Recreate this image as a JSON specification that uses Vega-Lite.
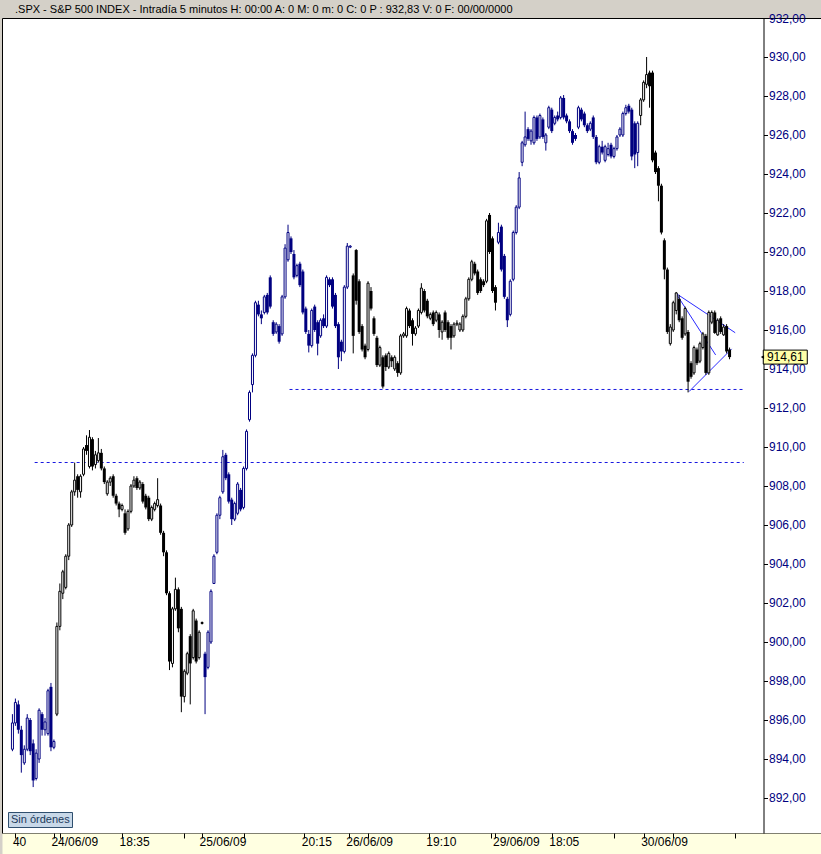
{
"$schema": "https://vega.github.io/schema/vega-lite/v6.json",
"width": 819, "height": 815,
"autosize": {"type": "none"},
"padding": {"left": 2, "top": 18, "right": 0, "bottom": 21},
"background": "#d4d0c8",
"title": {"text": ".SPX - S&P 500 INDEX - Intradía 5 minutos  H: 00:00  A: 0  M: 0  m: 0  C: 0  P : 932,83  V: 0  F: 00/00/0000", "anchor": "start", "frame": "group", "dx": 13, "dy": 7, "offset": 4, "font": "Liberation Sans", "fontSize": 11, "fontWeight": "normal", "color": "black"},
"config": {"view": {"fill": "white", "stroke": "black", "strokeWidth": 1}, "font": "Liberation Sans"},
"resolve": {"axis": {"x": "independent"}},
"datasets": {
"bars": [
{"i":0,"d":"23/06","o":894.5,"h":896.3,"l":894.4,"c":895.85},
{"i":1,"d":"23/06","o":895.85,"h":897.1,"l":895.7,"c":896.9},
{"i":2,"d":"23/06","o":896.8,"h":897.0,"l":895.3,"c":895.5},
{"i":3,"d":"23/06","o":895.5,"h":895.7,"l":893.3,"c":894.2},
{"i":4,"d":"23/06","o":893.8,"h":894.7,"l":893.7,"c":894.5},
{"i":5,"d":"23/06","o":894.5,"h":896.3,"l":894.4,"c":896.1},
{"i":6,"d":"23/06","o":896.0,"h":896.1,"l":894.2,"c":894.4},
{"i":7,"d":"23/06","o":894.8,"h":895.0,"l":892.56,"c":892.9},
{"i":8,"d":"23/06","o":893.0,"h":894.5,"l":892.9,"c":894.3},
{"i":9,"d":"23/06","o":894.0,"h":896.6,"l":893.8,"c":896.5},
{"i":10,"d":"23/06","o":896.3,"h":896.4,"l":895.2,"c":895.5},
{"i":11,"d":"23/06","o":895.5,"h":896.1,"l":895.2,"c":895.9},
{"i":12,"d":"23/06","o":895.3,"h":897.6,"l":895.2,"c":897.5},
{"i":13,"d":"23/06","o":897.7,"h":897.9,"l":894.4,"c":894.6},
{"i":14,"d":"23/06","o":894.6,"h":895.0,"l":894.5,"c":894.9},
{"i":15,"d":"24/06","o":896.3,"h":901.0,"l":896.2,"c":900.8},
{"i":16,"d":"24/06","o":900.8,"h":903.0,"l":900.6,"c":902.6},
{"i":17,"d":"24/06","o":902.5,"h":903.7,"l":902.2,"c":903.6},
{"i":18,"d":"24/06","o":902.8,"h":904.5,"l":902.7,"c":904.4},
{"i":19,"d":"24/06","o":904.4,"h":906.1,"l":904.2,"c":906.0},
{"i":20,"d":"24/06","o":906.0,"h":907.8,"l":905.9,"c":907.7},
{"i":21,"d":"24/06","o":907.7,"h":909.2,"l":907.5,"c":908.3},
{"i":22,"d":"24/06","o":908.5,"h":908.6,"l":907.4,"c":907.8},
{"i":23,"d":"24/06","o":907.7,"h":908.6,"l":907.4,"c":908.5},
{"i":24,"d":"24/06","o":908.6,"h":910.0,"l":908.5,"c":909.9},
{"i":25,"d":"24/06","o":910.1,"h":910.6,"l":909.6,"c":909.8},
{"i":26,"d":"24/06","o":909.0,"h":910.87,"l":908.9,"c":910.5},
{"i":27,"d":"24/06","o":910.4,"h":910.5,"l":908.8,"c":909.0},
{"i":28,"d":"24/06","o":909.1,"h":909.8,"l":908.9,"c":909.6},
{"i":29,"d":"24/06","o":909.3,"h":910.46,"l":909.2,"c":909.7},
{"i":30,"d":"24/06","o":909.7,"h":909.9,"l":908.8,"c":908.9},
{"i":31,"d":"24/06","o":908.9,"h":909.0,"l":908.1,"c":908.2},
{"i":32,"d":"24/06","o":907.6,"h":908.3,"l":907.5,"c":908.2},
{"i":33,"d":"24/06","o":908.2,"h":908.5,"l":908.0,"c":908.4},
{"i":34,"d":"24/06","o":908.5,"h":908.6,"l":907.4,"c":907.5},
{"i":35,"d":"24/06","o":907.5,"h":907.6,"l":907.0,"c":907.1},
{"i":36,"d":"24/06","o":907.1,"h":907.2,"l":906.4,"c":906.8},
{"i":37,"d":"24/06","o":906.8,"h":907.1,"l":906.7,"c":907.0},
{"i":38,"d":"24/06","o":906.6,"h":906.8,"l":905.5,"c":905.6},
{"i":39,"d":"24/06","o":905.8,"h":906.8,"l":905.7,"c":906.7},
{"i":40,"d":"24/06","o":906.7,"h":908.1,"l":906.6,"c":908.0},
{"i":41,"d":"24/06","o":908.0,"h":908.5,"l":907.9,"c":908.3},
{"i":42,"d":"24/06","o":908.4,"h":908.5,"l":907.8,"c":907.9},
{"i":43,"d":"24/06","o":907.9,"h":908.3,"l":907.8,"c":908.2},
{"i":44,"d":"24/06","o":908.1,"h":908.2,"l":907.1,"c":907.2},
{"i":45,"d":"24/06","o":907.5,"h":907.6,"l":906.8,"c":906.9},
{"i":46,"d":"24/06","o":907.4,"h":907.5,"l":906.2,"c":906.3},
{"i":47,"d":"24/06","o":906.3,"h":907.0,"l":906.2,"c":906.9},
{"i":48,"d":"24/06","o":906.8,"h":907.2,"l":906.7,"c":907.1},
{"i":49,"d":"24/06","o":907.0,"h":908.4,"l":906.9,"c":907.3},
{"i":50,"d":"24/06","o":907.0,"h":907.1,"l":905.5,"c":905.6},
{"i":51,"d":"24/06","o":905.6,"h":905.7,"l":904.4,"c":904.6},
{"i":52,"d":"24/06","o":904.6,"h":904.7,"l":902.4,"c":902.5},
{"i":53,"d":"24/06","o":902.5,"h":902.6,"l":898.56,"c":899.0},
{"i":54,"d":"24/06","o":898.9,"h":901.8,"l":898.7,"c":901.7},
{"i":55,"d":"24/06","o":901.7,"h":903.3,"l":901.6,"c":902.7},
{"i":56,"d":"24/06","o":902.7,"h":902.8,"l":900.5,"c":900.7},
{"i":57,"d":"24/06","o":901.7,"h":901.8,"l":896.4,"c":897.2},
{"i":58,"d":"24/06","o":897.2,"h":898.6,"l":896.9,"c":898.5},
{"i":59,"d":"24/06","o":898.4,"h":899.5,"l":898.3,"c":899.4},
{"i":60,"d":"24/06","o":900.3,"h":900.4,"l":896.8,"c":898.9},
{"i":61,"d":"24/06","o":899.2,"h":901.7,"l":899.1,"c":901.6},
{"i":62,"d":"24/06","o":901.1,"h":901.2,"l":898.9,"c":899.0},
{"i":63,"d":"24/06","o":899.2,"h":900.6,"l":899.1,"c":900.5},
{"i":64,"d":"24/06","o":900.95,"h":901.05,"l":900.9,"c":901.0},
{"i":65,"d":"25/06","o":899.4,"h":899.5,"l":896.3,"c":898.2},
{"i":66,"d":"25/06","o":898.7,"h":900.6,"l":898.6,"c":900.5},
{"i":67,"d":"25/06","o":900.0,"h":902.7,"l":899.9,"c":902.6},
{"i":68,"d":"25/06","o":903.0,"h":904.5,"l":903.0,"c":904.4},
{"i":69,"d":"25/06","o":904.6,"h":906.6,"l":904.5,"c":906.5},
{"i":70,"d":"25/06","o":906.5,"h":907.5,"l":906.3,"c":907.4},
{"i":71,"d":"25/06","o":907.7,"h":909.85,"l":907.6,"c":909.5},
{"i":72,"d":"25/06","o":909.6,"h":909.7,"l":908.3,"c":908.4},
{"i":73,"d":"25/06","o":908.6,"h":908.7,"l":907.1,"c":907.2},
{"i":74,"d":"25/06","o":907.3,"h":907.4,"l":906.0,"c":906.3},
{"i":75,"d":"25/06","o":906.3,"h":907.2,"l":906.2,"c":907.1},
{"i":76,"d":"25/06","o":906.6,"h":908.2,"l":906.5,"c":908.1},
{"i":77,"d":"25/06","o":907.8,"h":907.9,"l":906.7,"c":906.8},
{"i":78,"d":"25/06","o":906.9,"h":909.0,"l":906.8,"c":908.9},
{"i":79,"d":"25/06","o":908.9,"h":910.9,"l":908.8,"c":910.8},
{"i":80,"d":"25/06","o":911.4,"h":912.9,"l":911.3,"c":912.8},
{"i":81,"d":"25/06","o":913.2,"h":914.8,"l":912.8,"c":914.7},
{"i":82,"d":"25/06","o":914.7,"h":917.5,"l":914.6,"c":917.4},
{"i":83,"d":"25/06","o":917.3,"h":917.5,"l":916.7,"c":916.8},
{"i":84,"d":"25/06","o":916.8,"h":917.0,"l":916.3,"c":916.6},
{"i":85,"d":"25/06","o":916.9,"h":917.8,"l":916.8,"c":917.7},
{"i":86,"d":"25/06","o":917.8,"h":917.9,"l":916.8,"c":916.9},
{"i":87,"d":"25/06","o":918.7,"h":918.8,"l":917.1,"c":917.2},
{"i":88,"d":"25/06","o":916.4,"h":916.5,"l":915.7,"c":915.8},
{"i":89,"d":"25/06","o":915.9,"h":916.4,"l":915.8,"c":916.3},
{"i":90,"d":"25/06","o":916.2,"h":916.3,"l":915.3,"c":915.4},
{"i":91,"d":"25/06","o":915.8,"h":917.8,"l":915.7,"c":917.7},
{"i":92,"d":"25/06","o":917.7,"h":920.4,"l":917.6,"c":920.2},
{"i":93,"d":"25/06","o":919.6,"h":921.4,"l":919.5,"c":921.0},
{"i":94,"d":"25/06","o":920.7,"h":920.8,"l":919.9,"c":920.0},
{"i":95,"d":"25/06","o":919.9,"h":920.1,"l":918.6,"c":918.7},
{"i":96,"d":"25/06","o":918.8,"h":919.4,"l":918.7,"c":919.3},
{"i":97,"d":"25/06","o":919.4,"h":919.5,"l":918.2,"c":918.3},
{"i":98,"d":"25/06","o":919.0,"h":919.1,"l":916.8,"c":916.9},
{"i":99,"d":"25/06","o":917.1,"h":917.2,"l":915.8,"c":915.9},
{"i":100,"d":"25/06","o":915.8,"h":916.0,"l":914.85,"c":915.2},
{"i":101,"d":"25/06","o":915.2,"h":917.1,"l":915.1,"c":917.0},
{"i":102,"d":"25/06","o":917.2,"h":917.3,"l":915.9,"c":916.0},
{"i":103,"d":"25/06","o":916.4,"h":916.5,"l":914.7,"c":915.3},
{"i":104,"d":"25/06","o":915.7,"h":916.6,"l":915.6,"c":916.5},
{"i":105,"d":"25/06","o":916.6,"h":916.8,"l":916.1,"c":916.2},
{"i":106,"d":"25/06","o":916.2,"h":918.8,"l":916.1,"c":918.7},
{"i":107,"d":"25/06","o":918.6,"h":918.7,"l":918.2,"c":918.3},
{"i":108,"d":"25/06","o":918.6,"h":918.7,"l":917.1,"c":917.2},
{"i":109,"d":"25/06","o":917.8,"h":917.9,"l":916.1,"c":916.2},
{"i":110,"d":"25/06","o":916.3,"h":916.4,"l":914.0,"c":914.6},
{"i":111,"d":"25/06","o":915.4,"h":915.5,"l":914.4,"c":914.9},
{"i":112,"d":"25/06","o":914.9,"h":918.3,"l":914.8,"c":918.2},
{"i":113,"d":"25/06","o":918.2,"h":920.46,"l":918.1,"c":920.3},
{"i":114,"d":"25/06","o":920.25,"h":920.35,"l":920.2,"c":920.3},
{"i":115,"d":"26/06","o":918.8,"h":918.9,"l":914.8,"c":915.7},
{"i":116,"d":"26/06","o":920.1,"h":920.15,"l":917.3,"c":917.5},
{"i":117,"d":"26/06","o":918.5,"h":918.6,"l":915.8,"c":915.9},
{"i":118,"d":"26/06","o":916.2,"h":916.3,"l":914.9,"c":915.0},
{"i":119,"d":"26/06","o":915.2,"h":915.3,"l":914.5,"c":914.6},
{"i":120,"d":"26/06","o":915.0,"h":918.5,"l":914.9,"c":918.4},
{"i":121,"d":"26/06","o":918.0,"h":918.2,"l":917.0,"c":917.1},
{"i":122,"d":"26/06","o":916.6,"h":916.7,"l":915.7,"c":915.8},
{"i":123,"d":"26/06","o":915.6,"h":915.7,"l":914.1,"c":914.2},
{"i":124,"d":"26/06","o":914.2,"h":915.2,"l":914.1,"c":915.1},
{"i":125,"d":"26/06","o":914.6,"h":914.7,"l":913.0,"c":913.1},
{"i":126,"d":"26/06","o":914.7,"h":914.8,"l":913.9,"c":914.1},
{"i":127,"d":"26/06","o":914.1,"h":914.9,"l":914.0,"c":914.8},
{"i":128,"d":"26/06","o":914.6,"h":914.7,"l":914.1,"c":914.4},
{"i":129,"d":"26/06","o":914.0,"h":914.7,"l":913.9,"c":914.6},
{"i":130,"d":"26/06","o":914.3,"h":914.4,"l":913.6,"c":913.8},
{"i":131,"d":"26/06","o":913.8,"h":915.8,"l":913.7,"c":915.7},
{"i":132,"d":"26/06","o":915.7,"h":915.9,"l":915.6,"c":915.8},
{"i":133,"d":"26/06","o":915.7,"h":917.2,"l":915.6,"c":917.1},
{"i":134,"d":"26/06","o":917.0,"h":917.1,"l":916.1,"c":916.2},
{"i":135,"d":"26/06","o":916.5,"h":916.6,"l":915.2,"c":915.8},
{"i":136,"d":"26/06","o":915.8,"h":916.2,"l":915.7,"c":916.1},
{"i":137,"d":"26/06","o":916.2,"h":917.1,"l":916.1,"c":917.0},
{"i":138,"d":"26/06","o":916.9,"h":918.4,"l":916.8,"c":918.15},
{"i":139,"d":"26/06","o":918.0,"h":918.1,"l":916.9,"c":917.0},
{"i":140,"d":"26/06","o":917.5,"h":917.6,"l":916.6,"c":916.7},
{"i":141,"d":"26/06","o":916.6,"h":916.9,"l":916.5,"c":916.8},
{"i":142,"d":"26/06","o":916.9,"h":917.0,"l":916.2,"c":916.3},
{"i":143,"d":"26/06","o":916.5,"h":917.0,"l":916.4,"c":916.9},
{"i":144,"d":"26/06","o":916.8,"h":916.9,"l":915.6,"c":916.0},
{"i":145,"d":"26/06","o":915.9,"h":916.5,"l":915.5,"c":916.4},
{"i":146,"d":"26/06","o":916.9,"h":917.0,"l":915.9,"c":916.0},
{"i":147,"d":"26/06","o":916.4,"h":916.5,"l":915.5,"c":915.6},
{"i":148,"d":"26/06","o":916.2,"h":916.3,"l":915.0,"c":915.6},
{"i":149,"d":"26/06","o":915.7,"h":916.4,"l":915.6,"c":916.3},
{"i":150,"d":"26/06","o":916.3,"h":916.5,"l":916.2,"c":916.35},
{"i":151,"d":"26/06","o":916.0,"h":916.4,"l":915.9,"c":916.3},
{"i":152,"d":"26/06","o":916.0,"h":916.8,"l":915.9,"c":916.7},
{"i":153,"d":"26/06","o":916.7,"h":917.7,"l":916.6,"c":917.6},
{"i":154,"d":"26/06","o":917.6,"h":918.7,"l":917.5,"c":918.6},
{"i":155,"d":"26/06","o":918.6,"h":919.6,"l":918.5,"c":919.5},
{"i":156,"d":"26/06","o":919.4,"h":919.5,"l":918.8,"c":918.9},
{"i":157,"d":"26/06","o":919.0,"h":919.1,"l":917.8,"c":917.9},
{"i":158,"d":"26/06","o":918.6,"h":918.7,"l":917.9,"c":918.0},
{"i":159,"d":"26/06","o":918.5,"h":918.6,"l":918.2,"c":918.3},
{"i":160,"d":"26/06","o":918.5,"h":921.7,"l":918.4,"c":921.6},
{"i":161,"d":"26/06","o":921.9,"h":922.0,"l":919.9,"c":920.0},
{"i":162,"d":"26/06","o":920.7,"h":920.8,"l":917.9,"c":918.0},
{"i":163,"d":"26/06","o":918.2,"h":918.3,"l":917.0,"c":917.4},
{"i":164,"d":"29/06","o":920.5,"h":921.5,"l":920.4,"c":921.0},
{"i":165,"d":"29/06","o":921.3,"h":921.4,"l":919.0,"c":919.1},
{"i":166,"d":"29/06","o":919.8,"h":919.9,"l":917.6,"c":917.7},
{"i":167,"d":"29/06","o":917.6,"h":917.7,"l":916.15,"c":916.5},
{"i":168,"d":"29/06","o":916.8,"h":918.6,"l":916.7,"c":918.5},
{"i":169,"d":"29/06","o":918.6,"h":921.1,"l":918.5,"c":921.0},
{"i":170,"d":"29/06","o":921.0,"h":922.4,"l":920.9,"c":922.3},
{"i":171,"d":"29/06","o":922.3,"h":924.1,"l":922.2,"c":923.8},
{"i":172,"d":"29/06","o":924.6,"h":925.7,"l":924.4,"c":925.6},
{"i":173,"d":"29/06","o":925.5,"h":927.2,"l":925.4,"c":925.9},
{"i":174,"d":"29/06","o":926.3,"h":926.4,"l":925.7,"c":925.8},
{"i":175,"d":"29/06","o":925.7,"h":926.3,"l":925.5,"c":926.2},
{"i":176,"d":"29/06","o":925.6,"h":927.0,"l":925.5,"c":926.9},
{"i":177,"d":"29/06","o":926.9,"h":927.0,"l":925.7,"c":925.8},
{"i":178,"d":"29/06","o":925.9,"h":927.1,"l":925.8,"c":927.0},
{"i":179,"d":"29/06","o":926.8,"h":926.9,"l":925.8,"c":925.9},
{"i":180,"d":"29/06","o":925.6,"h":926.1,"l":925.2,"c":926.0},
{"i":181,"d":"29/06","o":926.4,"h":927.5,"l":926.3,"c":927.4},
{"i":182,"d":"29/06","o":927.3,"h":927.4,"l":926.1,"c":926.2},
{"i":183,"d":"29/06","o":926.6,"h":927.0,"l":926.5,"c":926.9},
{"i":184,"d":"29/06","o":927.0,"h":927.2,"l":926.7,"c":926.8},
{"i":185,"d":"29/06","o":926.9,"h":928.0,"l":926.8,"c":927.9},
{"i":186,"d":"29/06","o":927.9,"h":928.05,"l":926.8,"c":926.9},
{"i":187,"d":"29/06","o":927.0,"h":927.1,"l":926.6,"c":926.7},
{"i":188,"d":"29/06","o":926.7,"h":926.8,"l":926.1,"c":926.2},
{"i":189,"d":"29/06","o":926.2,"h":926.3,"l":925.5,"c":925.6},
{"i":190,"d":"29/06","o":926.0,"h":926.1,"l":925.7,"c":925.8},
{"i":191,"d":"29/06","o":926.4,"h":927.5,"l":926.3,"c":927.4},
{"i":192,"d":"29/06","o":927.3,"h":927.4,"l":926.7,"c":926.8},
{"i":193,"d":"29/06","o":927.1,"h":927.2,"l":926.4,"c":926.5},
{"i":194,"d":"29/06","o":926.5,"h":926.6,"l":926.1,"c":926.2},
{"i":195,"d":"29/06","o":926.3,"h":926.7,"l":926.2,"c":926.6},
{"i":196,"d":"29/06","o":926.9,"h":927.0,"l":925.8,"c":925.9},
{"i":197,"d":"29/06","o":925.9,"h":926.0,"l":924.5,"c":924.6},
{"i":198,"d":"29/06","o":924.6,"h":925.5,"l":924.5,"c":925.4},
{"i":199,"d":"29/06","o":925.4,"h":925.7,"l":925.0,"c":925.1},
{"i":200,"d":"29/06","o":924.7,"h":925.5,"l":924.6,"c":925.4},
{"i":201,"d":"29/06","o":925.0,"h":925.6,"l":924.9,"c":925.3},
{"i":202,"d":"29/06","o":925.5,"h":925.6,"l":924.8,"c":924.9},
{"i":203,"d":"29/06","o":924.9,"h":925.4,"l":924.8,"c":925.3},
{"i":204,"d":"29/06","o":925.3,"h":926.0,"l":925.2,"c":925.9},
{"i":205,"d":"29/06","o":926.0,"h":926.4,"l":925.9,"c":926.3},
{"i":206,"d":"29/06","o":926.0,"h":927.2,"l":925.9,"c":927.1},
{"i":207,"d":"29/06","o":927.1,"h":927.55,"l":927.0,"c":927.4},
{"i":208,"d":"29/06","o":927.5,"h":927.6,"l":927.1,"c":927.2},
{"i":209,"d":"29/06","o":927.3,"h":927.4,"l":924.7,"c":924.9},
{"i":210,"d":"29/06","o":926.6,"h":926.7,"l":924.3,"c":925.0},
{"i":211,"d":"29/06","o":925.1,"h":926.7,"l":924.4,"c":926.6},
{"i":212,"d":"30/06","o":927.0,"h":927.9,"l":926.5,"c":927.8},
{"i":213,"d":"30/06","o":927.8,"h":928.8,"l":927.7,"c":928.7},
{"i":214,"d":"30/06","o":928.6,"h":930.0,"l":928.4,"c":929.1},
{"i":215,"d":"30/06","o":929.2,"h":929.3,"l":927.4,"c":928.5},
{"i":216,"d":"30/06","o":929.2,"h":929.3,"l":924.6,"c":924.7},
{"i":217,"d":"30/06","o":925.1,"h":925.2,"l":924.0,"c":924.1},
{"i":218,"d":"30/06","o":924.3,"h":924.4,"l":922.6,"c":923.4},
{"i":219,"d":"30/06","o":923.4,"h":923.5,"l":920.9,"c":921.0},
{"i":220,"d":"30/06","o":920.6,"h":920.7,"l":918.6,"c":919.1},
{"i":221,"d":"30/06","o":919.1,"h":919.2,"l":915.8,"c":915.9},
{"i":222,"d":"30/06","o":915.3,"h":916.3,"l":915.2,"c":916.15},
{"i":223,"d":"30/06","o":916.0,"h":917.5,"l":915.9,"c":917.4},
{"i":224,"d":"30/06","o":917.0,"h":917.95,"l":916.8,"c":917.9},
{"i":225,"d":"30/06","o":917.6,"h":917.8,"l":916.4,"c":916.5},
{"i":226,"d":"30/06","o":916.6,"h":916.7,"l":915.5,"c":915.6},
{"i":227,"d":"30/06","o":915.8,"h":917.2,"l":915.7,"c":917.1},
{"i":228,"d":"30/06","o":915.9,"h":916.0,"l":912.8,"c":913.35},
{"i":229,"d":"30/06","o":914.3,"h":914.4,"l":913.5,"c":913.6},
{"i":230,"d":"30/06","o":913.8,"h":915.2,"l":913.7,"c":915.1},
{"i":231,"d":"30/06","o":915.0,"h":915.1,"l":914.2,"c":914.3},
{"i":232,"d":"30/06","o":914.4,"h":915.4,"l":914.3,"c":915.3},
{"i":233,"d":"30/06","o":915.1,"h":915.9,"l":915.0,"c":915.8},
{"i":234,"d":"30/06","o":915.7,"h":915.8,"l":913.7,"c":913.8},
{"i":235,"d":"30/06","o":913.8,"h":917.0,"l":913.7,"c":916.9},
{"i":236,"d":"30/06","o":916.4,"h":917.0,"l":916.3,"c":916.9},
{"i":237,"d":"30/06","o":916.9,"h":917.0,"l":915.8,"c":915.85},
{"i":238,"d":"30/06","o":915.75,"h":916.6,"l":915.7,"c":916.5},
{"i":239,"d":"30/06","o":916.6,"h":916.7,"l":915.8,"c":915.9},
{"i":240,"d":"30/06","o":915.75,"h":916.3,"l":915.7,"c":916.15},
{"i":241,"d":"30/06","o":916.2,"h":916.3,"l":914.8,"c":914.9},
{"i":242,"d":"30/06","o":915.0,"h":915.1,"l":914.5,"c":914.61}
],
"levels": [
{"level": 909.205, "from": 7.5, "to": 246.8},
{"level": 912.95, "from": 93.5, "to": 246.8}
],
"lines": [
{"x1": 223.9, "y1": 917.88, "x2": 243.9, "y2": 915.86},
{"x1": 228.3, "y1": 912.84, "x2": 242.7, "y2": 915.03},
{"x1": 223.9, "y1": 917.88, "x2": 237.3, "y2": 914.72}
],
"last": [
{"v": 914.61, "txt": "914,61", "tag": "Sin órdenes"}
]
},
"layer": [
{
"data": {"name": "lines"},
"mark": {"type": "rule", "color": "#2a2aff", "strokeWidth": 1},
"encoding": {
"x": {"field": "x1", "type": "quantitative", "scale": {"domain": [-1.8333333, 271.1666667], "nice": false, "zero": false},
"axis": {"orient": "bottom", "offset": 10.5, "title": null, "grid": false, "ticks": false, "labels": false,
"domainColor": "#ffffe1", "domainWidth": 21}},
"x2": {"field": "x2"},
"y": {"field": "y1", "type": "quantitative", "scale": {"domain": [890.205, 932], "nice": false, "zero": false},
"axis": {"orient": "right", "offset": -57.5, "title": null, "grid": false,
"values": [892, 894, 896, 898, 900, 902, 904, 906, 908, 910, 912, 914, 916, 918, 920, 922, 924, 926, 928, 930, 932],
"labelExpr": "replace(format(datum.value, '.2f'), '.', ',')",
"domainColor": "black", "tickColor": "black", "tickSize": 4,
"labelPadding": 1, "labelFont": "Liberation Sans", "labelFontSize": 12, "labelColor": "#000080",
"labelOverlap": false, "labelFlush": false, "labelBound": false}},
"y2": {"field": "y2"}
}
},
{
"data": {"name": "levels"},
"mark": {"type": "rule", "color": "#1818e0", "strokeWidth": 1, "strokeDash": [3, 3]},
"encoding": {
"x": {"field": "from", "type": "quantitative",
"axis": {"orient": "bottom", "offset": 0, "title": null, "grid": false, "domain": false,
"values": [1, 14, 16, 37, 58, 64, 78, 98.5, 113.5, 120, 140.5, 161.5, 163, 182, 203, 213, 223, 244],
"labelExpr": "datum.value == 1 ? '40' : datum.value == 14 ? '24/06/09' : datum.value == 37 ? '18:35' : datum.value == 64 ? '25/06/09' : datum.value == 98.5 ? '20:15' : datum.value == 113.5 ? '26/06/09' : datum.value == 140.5 ? '19:10' : datum.value == 163 ? '29/06/09' : datum.value == 182 ? '18:05' : datum.value == 213 ? '30/06/09' : ''",
"tickColor": "black", "tickSize": 5, "tickWidth": 1,
"labelAlign": "left", "labelBaseline": "top", "labelPadding": -2, "labelOffset": -3,
"labelFont": "Liberation Sans", "labelFontSize": 12, "labelColor": "black",
"labelOverlap": false, "labelFlush": false, "labelBound": false}},
"x2": {"field": "to"},
"y": {"field": "level", "type": "quantitative"}
}
},
{
"data": {"name": "bars"},
"mark": {"type": "rule", "strokeWidth": 1},
"encoding": {
"x": {"field": "i", "type": "quantitative", "axis": null},
"y": {"field": "l", "type": "quantitative"},
"y2": {"field": "h"},
"stroke": {"field": "d", "type": "nominal", "scale": {"domain": ["23/06", "24/06", "25/06", "26/06", "29/06", "30/06"], "range": ["#000080", "#000000", "#000080", "#000000", "#000080", "#000000"]}, "legend": null}
}
},
{
"data": {"name": "bars"},
"transform": [{"filter": "datum.c >= datum.o"}],
"mark": {"type": "bar", "size": 2, "fill": "white", "strokeWidth": 1},
"encoding": {
"x": {"field": "i", "type": "quantitative", "axis": null},
"y": {"field": "o", "type": "quantitative"},
"y2": {"field": "c"},
"stroke": {"field": "d", "type": "nominal", "scale": {"domain": ["23/06", "24/06", "25/06", "26/06", "29/06", "30/06"], "range": ["#000080", "#000000", "#000080", "#000000", "#000080", "#000000"]}, "legend": null}
}
},
{
"data": {"name": "bars"},
"transform": [{"filter": "datum.c < datum.o"}],
"mark": {"type": "bar", "size": 3, "strokeWidth": 0},
"encoding": {
"x": {"field": "i", "type": "quantitative", "axis": null},
"y": {"field": "o", "type": "quantitative"},
"y2": {"field": "c"},
"fill": {"field": "d", "type": "nominal", "scale": {"domain": ["23/06", "24/06", "25/06", "26/06", "29/06", "30/06"], "range": ["#000080", "#000000", "#000080", "#000000", "#000080", "#000000"]}, "legend": null}
}
},
{
"data": {"name": "last"},
"mark": {"type": "point", "shape": "M-1,-0.318L1,-0.318L1,0.318L-1,0.318Z", "size": 1936, "filled": true, "fill": "#ffffa8", "stroke": "black", "strokeWidth": 1, "opacity": 1},
"encoding": {
"x": {"datum": 260.8, "type": "quantitative", "axis": null},
"y": {"field": "v", "type": "quantitative"}
}
},
{
"data": {"name": "last"},
"mark": {"type": "text", "font": "Liberation Sans", "fontSize": 12, "color": "black", "align": "center", "baseline": "middle"},
"encoding": {
"x": {"datum": 260.8, "type": "quantitative", "axis": null},
"y": {"field": "v", "type": "quantitative"},
"text": {"field": "txt"}
}
},
{
"data": {"name": "last"},
"mark": {"type": "point", "size": 14, "filled": true, "color": "black", "opacity": 1},
"encoding": {
"x": {"datum": 253.1, "type": "quantitative", "axis": null},
"y": {"field": "v", "type": "quantitative"},
"shape": {"field": "tag", "type": "nominal", "scale": {"range": ["triangle-left"]},
"legend": {"orient": "bottom-left", "offset": 6, "title": null, "fillColor": "#c8d8e8", "strokeColor": "#2f4f6f", "padding": 2, "symbolSize": 1, "symbolOpacity": 0, "symbolStrokeWidth": 0, "labelFont": "Liberation Sans", "labelFontSize": 11, "labelColor": "#1b3a5c", "labelOffset": -10, "labelLimit": 200}}
}
}
]
}
